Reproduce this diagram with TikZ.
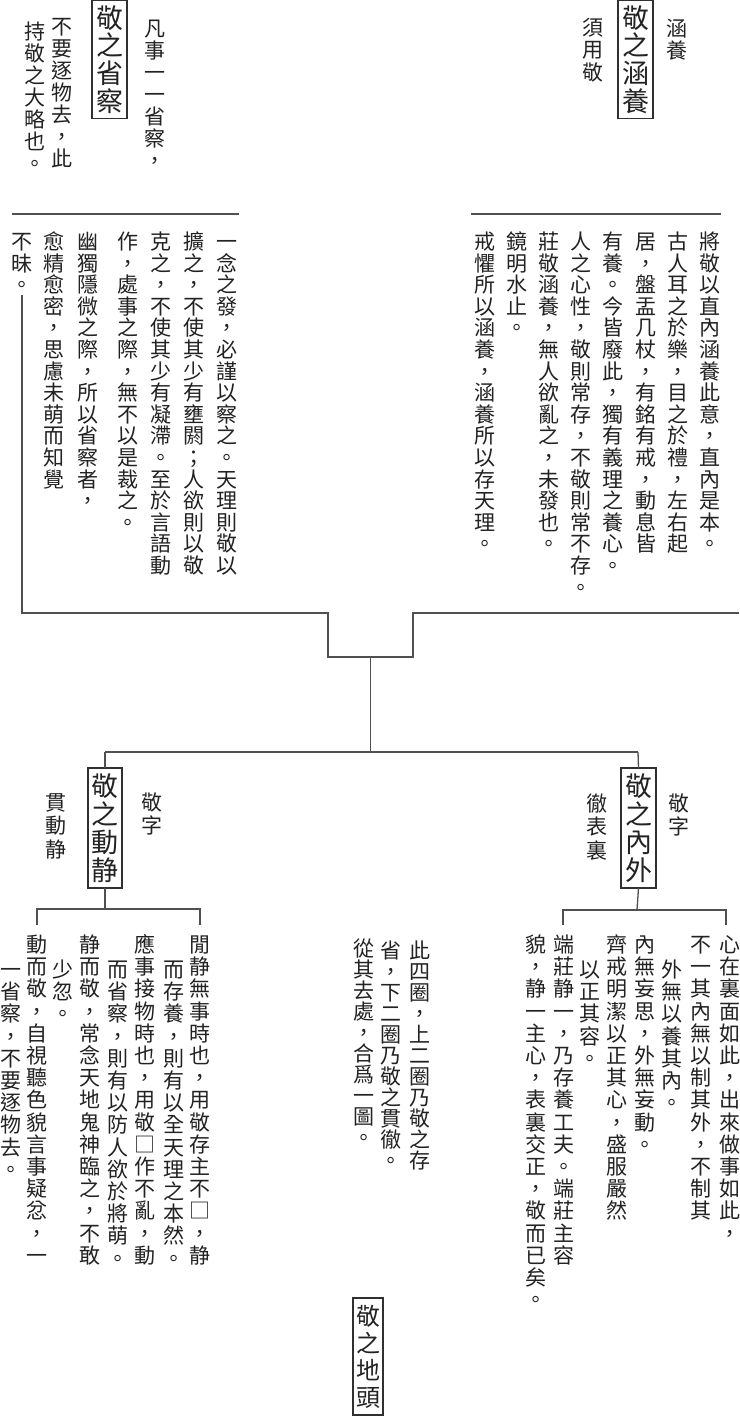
\documentclass[tikz,border=0pt]{standalone}
\usepackage{fontspec}
\setmainfont{Noto Sans CJK TC}
\definecolor{linec}{HTML}{505050}
\definecolor{boxc}{HTML}{303030}
\definecolor{txt}{HTML}{222222}
\newdimen\vtgap
\def\vtcell#1{\hbox to 1em{\hss\vrule height .88em depth .12em width 0pt\relax#1\hss}}
\def\vtloop#1{\ifx#1\relax\else\vskip\vtgap\vtcell{#1}\expandafter\vtloop\fi}
\def\vtfirst#1{\vtcell{#1}\vtloop}
\newcommand\vt[2]{\vbox{\offinterlineskip\vtgap=\dimexpr#1-1em\relax\vtfirst#2\relax}}
\tikzset{
  body/.style={inner sep=0pt, outer sep=0pt, anchor=north, text=txt, font=\fontsize{21}{22}\selectfont},
  label/.style={body},
  title/.style={draw=boxc, line width=1.1pt, inner sep=0pt, outer sep=0pt, text=txt,
     minimum width=35pt, minimum height=118pt, font=\fontsize{27}{28}\selectfont},
  conn/.style={draw=linec, line width=1.3pt},
  rule/.style={draw=linec, line width=1.3pt}
}
\begin{document}
\begin{tikzpicture}[x=1pt,y=-1pt]
\fill[white] (0,0) rectangle (739,1419);
\useasboundingbox (0,0) rectangle (739,1419);

% ---------- top right: 敬之涵養 ----------
\node[title] (tr) at (635.5,59.5) {\vt{27.7pt}{敬之涵養}};
\node[label] (trA) at (677,18) {\vt{21.6pt}{涵養}};
\node[label] (trB) at (593,17) {\vt{22.5pt}{須用敬}};
\coordinate (trL1) at (471,214);
\coordinate (trL2) at (721,214);
\draw[rule] (trL1) -- (trL2);
\node[body] (r1) at (710,231) {\vt{21.6pt}{將敬以直內涵養此意，直內是本。}};
\node[body] (r2) at (678,231) {\vt{21.6pt}{古人耳之於樂，目之於禮，左右起}};
\node[body] (r3) at (646,231) {\vt{21.6pt}{居，盤盂几杖，有銘有戒，動息皆}};
\node[body] (r4) at (613,231) {\vt{21.6pt}{有養。今皆廢此，獨有義理之養心。}};
\node[body] (r5) at (581,231) {\vt{21.6pt}{人之心性，敬則常存，不敬則常不存。}};
\node[body] (r6) at (549,231) {\vt{21.6pt}{莊敬涵養，無人欲亂之，未發也。}};
\node[body] (r7) at (517,231) {\vt{21.6pt}{鏡明水止。}};
\node[body] (r8) at (485,231) {\vt{21.6pt}{戒懼所以涵養，涵養所以存天理。}};

% ---------- top left: 敬之省察 ----------
\node[title] (tl) at (109.5,59.5) {\vt{27.7pt}{敬之省察}};
\node[label] (tlA) at (155,18) {\vt{22pt}{凡事一一省察，}};
\node[label] (tlB) at (62,16) {\vt{22pt}{不要逐物去，此}};
\node[label] (tlC) at (35,21) {\vt{22pt}{持敬之大略也。}};
\coordinate (tlL1) at (12,214);
\coordinate (tlL2) at (239,214);
\draw[rule] (tlL1) -- (tlL2);
\node[body] (l1) at (227,231) {\vt{21.6pt}{一念之發，必謹以察之。天理則敬以}};
\node[body] (l2) at (194,231) {\vt{21.6pt}{擴之，不使其少有壅閼；人欲則以敬}};
\node[body] (l3) at (161,231) {\vt{21.6pt}{克之，不使其少有凝滯。至於言語動}};
\node[body] (l4) at (128,231) {\vt{21.6pt}{作，處事之際，無不以是裁之。}};
\node[body] (l5) at (88,231) {\vt{21.6pt}{幽獨隱微之際，所以省察者，}};
\node[body] (l6) at (54,231) {\vt{21.6pt}{愈精愈密，思慮未萌而知覺}};
\node[body] (l7) at (22,231) {\vt{21.6pt}{不昧。}};

% ---------- central joint ----------
\coordinate (j1) at (22,613);
\coordinate (j2) at (328,613);
\coordinate (j3) at (328,657);
\coordinate (j4) at (413,657);
\coordinate (j5) at (413,613);
\coordinate (j6) at (739,613);
\coordinate (jc) at (370.5,657);
\coordinate (jd) at (370.5,752);
\coordinate (jl) at (105,752);
\coordinate (jr) at (638,752);
\draw[conn] (l7.south) -- (j1) -- (j2) -- (j3) -- (j4) -- (j5) -- (j6);
\draw[conn] (jc) -- (jd);

% ---------- bottom boxes ----------
\node[title, minimum height=120pt, minimum width=34pt] (bl) at (105,828) {\vt{28pt}{敬之動静}};
\node[title, minimum height=120pt] (br) at (638.5,828) {\vt{28pt}{敬之內外}};
\draw[conn] (jl) -- (jr);
\draw[conn] (jl) -- (bl.north);
\draw[conn] (jr) -- (br.north);
\node[label] (blA) at (56,792) {\vt{23.5pt}{貫動静}};
\node[label] (blB) at (152,792) {\vt{23.5pt}{敬字}};
\node[label] (brA) at (597,793) {\vt{23.5pt}{徹表裏}};
\node[label] (brB) at (679,793) {\vt{23.5pt}{敬字}};

% ---------- bottom left branch ----------
\coordinate (bla) at (105,909);
\coordinate (blL) at (37,909);
\coordinate (blR) at (200,909);
\coordinate (blLd) at (37,925);
\coordinate (blRd) at (200,925);
\draw[conn] (bl.south) -- (bla);
\draw[conn] (blLd) -- (blL) -- (blR) -- (blRd);
\node[body] (b1) at (200,934) {\vt{22.2pt}{閒静無事時也，用敬存主不□，静}};
\node[body] (b2) at (173.5,959) {\vt{22.2pt}{而存養，則有以全天理之本然。}};
\node[body] (b3) at (145,934) {\vt{22.2pt}{應事接物時也，用敬□作不亂，動}};
\node[body] (b4) at (118,959) {\vt{22.2pt}{而省察，則有以防人欲於將萌。}};
\node[body] (b5) at (90,934) {\vt{22.2pt}{静而敬，常念天地鬼神臨之，不敢}};
\node[body] (b6) at (63,959) {\vt{22.2pt}{少忽。}};
\node[body] (b7) at (37,934) {\vt{22.2pt}{動而敬，自視聽色貌言事疑忿，一}};
\node[body] (b8) at (10.5,959) {\vt{22.2pt}{一省察，不要逐物去。}};

% ---------- bottom right branch ----------
\coordinate (bra) at (637,910);
\coordinate (brL) at (563,910);
\coordinate (brR) at (726,910);
\coordinate (brLd) at (563,925);
\coordinate (brRd) at (726,925);
\draw[conn] (br.south) -- (bra);
\draw[conn] (brLd) -- (brL) -- (brR) -- (brRd);
\node[body] (c1) at (730,934) {\vt{22.2pt}{心在裏面如此，出來做事如此，}};
\node[body] (c2) at (701,934) {\vt{22.2pt}{不一其內無以制其外，不制其}};
\node[body] (c3) at (672,959) {\vt{22.2pt}{外無以養其內。}};
\node[body] (c4) at (645,934) {\vt{22.2pt}{內無妄思，外無妄動。}};
\node[body] (c5) at (617,934) {\vt{22.2pt}{齊戒明潔以正其心，盛服嚴然}};
\node[body] (c6) at (590,959) {\vt{22.2pt}{以正其容。}};
\node[body] (c7) at (564,934) {\vt{22.2pt}{端莊静一，乃存養工夫。端莊主容}};
\node[body] (c8) at (536,934) {\vt{22.2pt}{貌，静一主心，表裏交正，敬而已矣。}};

% ---------- middle note ----------
\node[body] (m1) at (420,940) {\vt{21pt}{此四圈，上二圈乃敬之存}};
\node[body] (m2) at (391,940) {\vt{21pt}{省，下二圈乃敬之貫徹。}};
\node[body] (m3) at (364,938) {\vt{21pt}{從其去處，合爲一圖。}};

% ---------- bottom title ----------
\node[title, minimum width=30pt, minimum height=117pt, font=\fontsize{24}{26}\selectfont] (bt) at (368,1356.5) {\vt{27pt}{敬之地頭}};
\end{tikzpicture}
\end{document}
